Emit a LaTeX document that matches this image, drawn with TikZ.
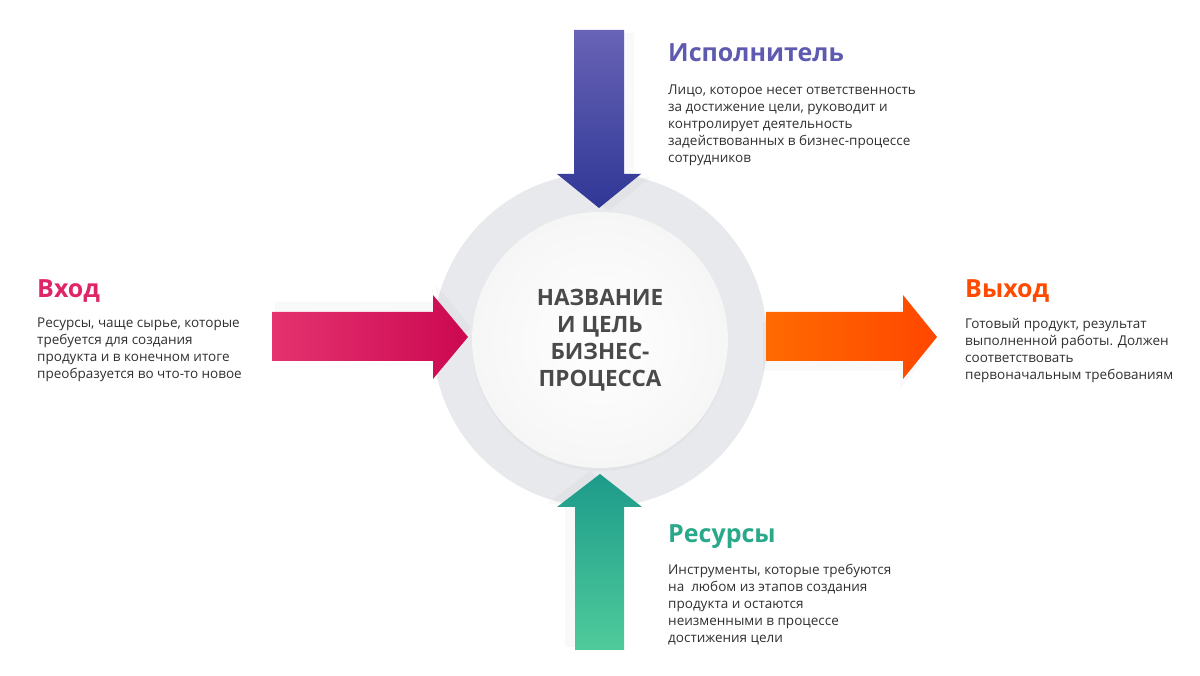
\documentclass[tikz,border=0pt]{standalone}
\usepackage{fontspec}
\setmainfont{Open Sans}
\usetikzlibrary{shadows}

\definecolor{ringgray}{HTML}{E8E9EC}
\definecolor{innergray}{HTML}{F6F6F7}
\definecolor{textgray}{HTML}{2F2F2F}
\definecolor{centergray}{HTML}{4A4A4A}
\definecolor{blueA}{HTML}{6863B6}
\definecolor{blueB}{HTML}{2F3795}
\definecolor{pinkA}{HTML}{E5336F}
\definecolor{pinkB}{HTML}{CB0851}
\definecolor{orangeA}{HTML}{FF6A00}
\definecolor{orangeB}{HTML}{FF4700}
\definecolor{tealA}{HTML}{1D9B8A}
\definecolor{tealB}{HTML}{4FCB9B}
\definecolor{ispcolor}{HTML}{5E5AB0}
\definecolor{vhodcolor}{HTML}{DF2567}
\definecolor{vyhodcolor}{HTML}{FF4A00}
\definecolor{rescolor}{HTML}{2AA88A}

\begin{document}
\begin{tikzpicture}[x=1pt,y=1pt,
	title/.style={font=\fontsize{25}{30}\selectfont\bfseries, anchor=base west, inner sep=0pt},
	body/.style={font=\fontsize{13.5}{17}\selectfont, align=left, anchor=north west, inner sep=0pt, text=textgray}]

	\useasboundingbox (0,0) rectangle (1200,676);

	% ring and inner disc
	\fill[ringgray] (600,336) circle (167);
	\shade[inner color=white, outer color=innergray, drop shadow={shadow xshift=0pt, shadow yshift=-3pt, opacity=.05}] (600,336) circle (128);

	% arrows
	\shade[top color=blueA, bottom color=blueB, drop shadow={shadow xshift=10pt, shadow yshift=-3pt, opacity=.05}]
		(574,646) -- (624,646) -- (624,502) -- (641,502) -- (599,468) -- (557,502) -- (574,502) -- cycle;
	\shade[left color=pinkA, right color=pinkB, drop shadow={shadow xshift=3pt, shadow yshift=10pt, opacity=.05}]
		(272,364) -- (433,364) -- (433,381) -- (468,339) -- (433,297) -- (433,315) -- (272,315) -- cycle;
	\shade[left color=orangeA, right color=orangeB, drop shadow={shadow xshift=-3pt, shadow yshift=-10pt, opacity=.05}]
		(766,364) -- (903,364) -- (903,381) -- (937,339) -- (903,297) -- (903,315) -- (766,315) -- cycle;
	\shade[top color=tealA, bottom color=tealB, drop shadow={shadow xshift=-10pt, shadow yshift=3pt, opacity=.05}]
		(575,26) -- (624,26) -- (624,169) -- (642,169) -- (600,202) -- (557,169) -- (575,169) -- cycle;

	% centre
	\node[align=center, text=centergray, font=\fontsize{22.5}{27}\selectfont\bfseries] (nazvanie) at (600,336)
		{НАЗВАНИЕ\\И ЦЕЛЬ\\БИЗНЕС-\\ПРОЦЕССА};

	% Исполнитель
	\node[title, text=ispcolor] (ispoln) at (668,614) {Исполнитель};
	\node[body] (ispolntxt) at (668,591) {Лицо, которое несет ответственность\\за достижение цели, руководит и\\контролирует деятельность\\задействованных в бизнес-процессе\\сотрудников};

	% Вход
	\node[title, text=vhodcolor] (vhod) at (37,378) {Вход};
	\node[body] (vhodtxt) at (37,358) {Ресурсы, чаще сырье, которые\\требуется для создания\\продукта и в конечном итоге\\преобразуется во что-то новое};

	% Выход
	\node[title, text=vyhodcolor] (vyhod) at (965,378) {Выход};
	\node[body] (vyhodtxt) at (965,358) {Готовый продукт, результат\\выполненной работы. Должен\\соответствовать\\первоначальным требованиям};

	% Ресурсы
	\node[title, text=rescolor] (resursy) at (668,133) {Ресурсы};
	\node[body] (resursytxt) at (668,112) {Инструменты, которые требуются\\на~ любом из этапов создания\\продукта и остаются\\неизменными в процессе\\достижения цели};

\end{tikzpicture}
\end{document}
